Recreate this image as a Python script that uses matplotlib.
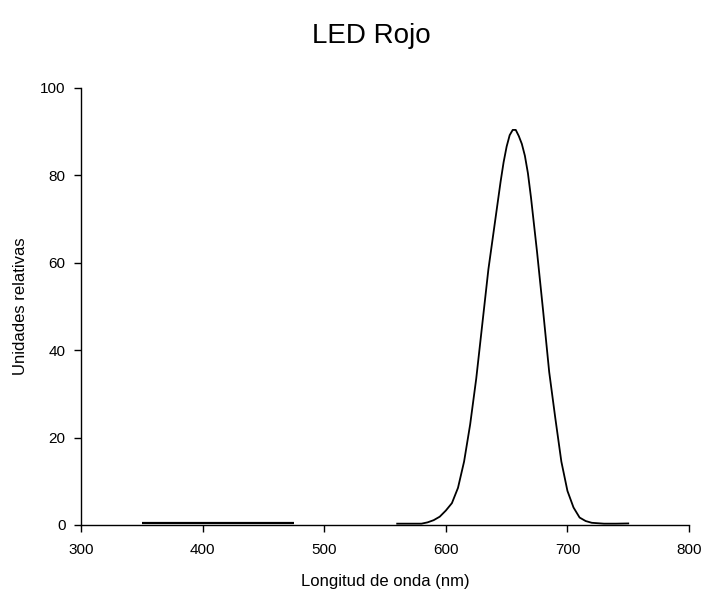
import matplotlib
matplotlib.use("Agg")
import matplotlib.pyplot as plt

# tramo plano (350-475 nm)
wl_low = [350, 400, 450, 475]
int_low = [0.35, 0.35, 0.35, 0.35]

# banda principal del LED rojo
wl_led = [560, 570, 580, 585, 590, 595, 600, 605, 610, 615, 620, 625, 630,
          635, 640, 645, 647.5, 650, 652.5, 655, 657.5, 660, 662.5, 665,
          667.5, 670, 675, 680, 685, 690, 695, 700, 705, 710, 715, 720,
          730, 740, 750]
int_led = [0.3, 0.3, 0.3, 0.6, 1.1, 1.9, 3.3, 5.0, 8.5, 14.5, 23.0, 33.5, 46.0,
           58.5, 68.5, 78.5, 83.0, 86.6, 89.2, 90.4, 90.4, 89.0, 87.2, 84.5,
           80.5, 75.0, 62.5, 49.0, 35.0, 24.5, 14.5, 7.8, 4.0, 1.7, 0.9, 0.5,
           0.3, 0.3, 0.35]

XTICKS = [300, 400, 500, 600, 700, 800]
YTICKS = [0, 20, 40, 60, 80, 100]

plt.rcParams["font.family"] = ["Liberation Sans", "DejaVu Sans"]

fig = plt.figure(figsize=(7.07, 5.94), dpi=100)
ax = fig.add_axes([0.1146, 0.1162, 0.86, 0.7357])

ax.plot(wl_low, int_low, color="black", lw=1.6, solid_capstyle="butt")
ax.plot(wl_led, int_led, color="black", lw=1.3, solid_joinstyle="round")

ax.set_xlim(300, 800)
ax.set_ylim(0, 100)
ax.set_xticks(XTICKS)
ax.set_yticks(YTICKS)
ax.tick_params(direction="out", length=5, width=1, labelsize=11)
ax.tick_params(axis="x", pad=8)
ax.tick_params(axis="y", pad=6)
for s in ("top", "right"):
    ax.spines[s].set_visible(False)
for s in ("left", "bottom"):
    ax.spines[s].set_linewidth(1.0)

ax.set_xlabel("Longitud de onda (nm)", fontsize=12, labelpad=12)
ax.set_ylabel("Unidades relativas", fontsize=12, labelpad=9)
fig.text(0.525, 0.94, "LED Rojo", ha="center", va="center", fontsize=20)

fig.savefig("out.png", dpi=100)
